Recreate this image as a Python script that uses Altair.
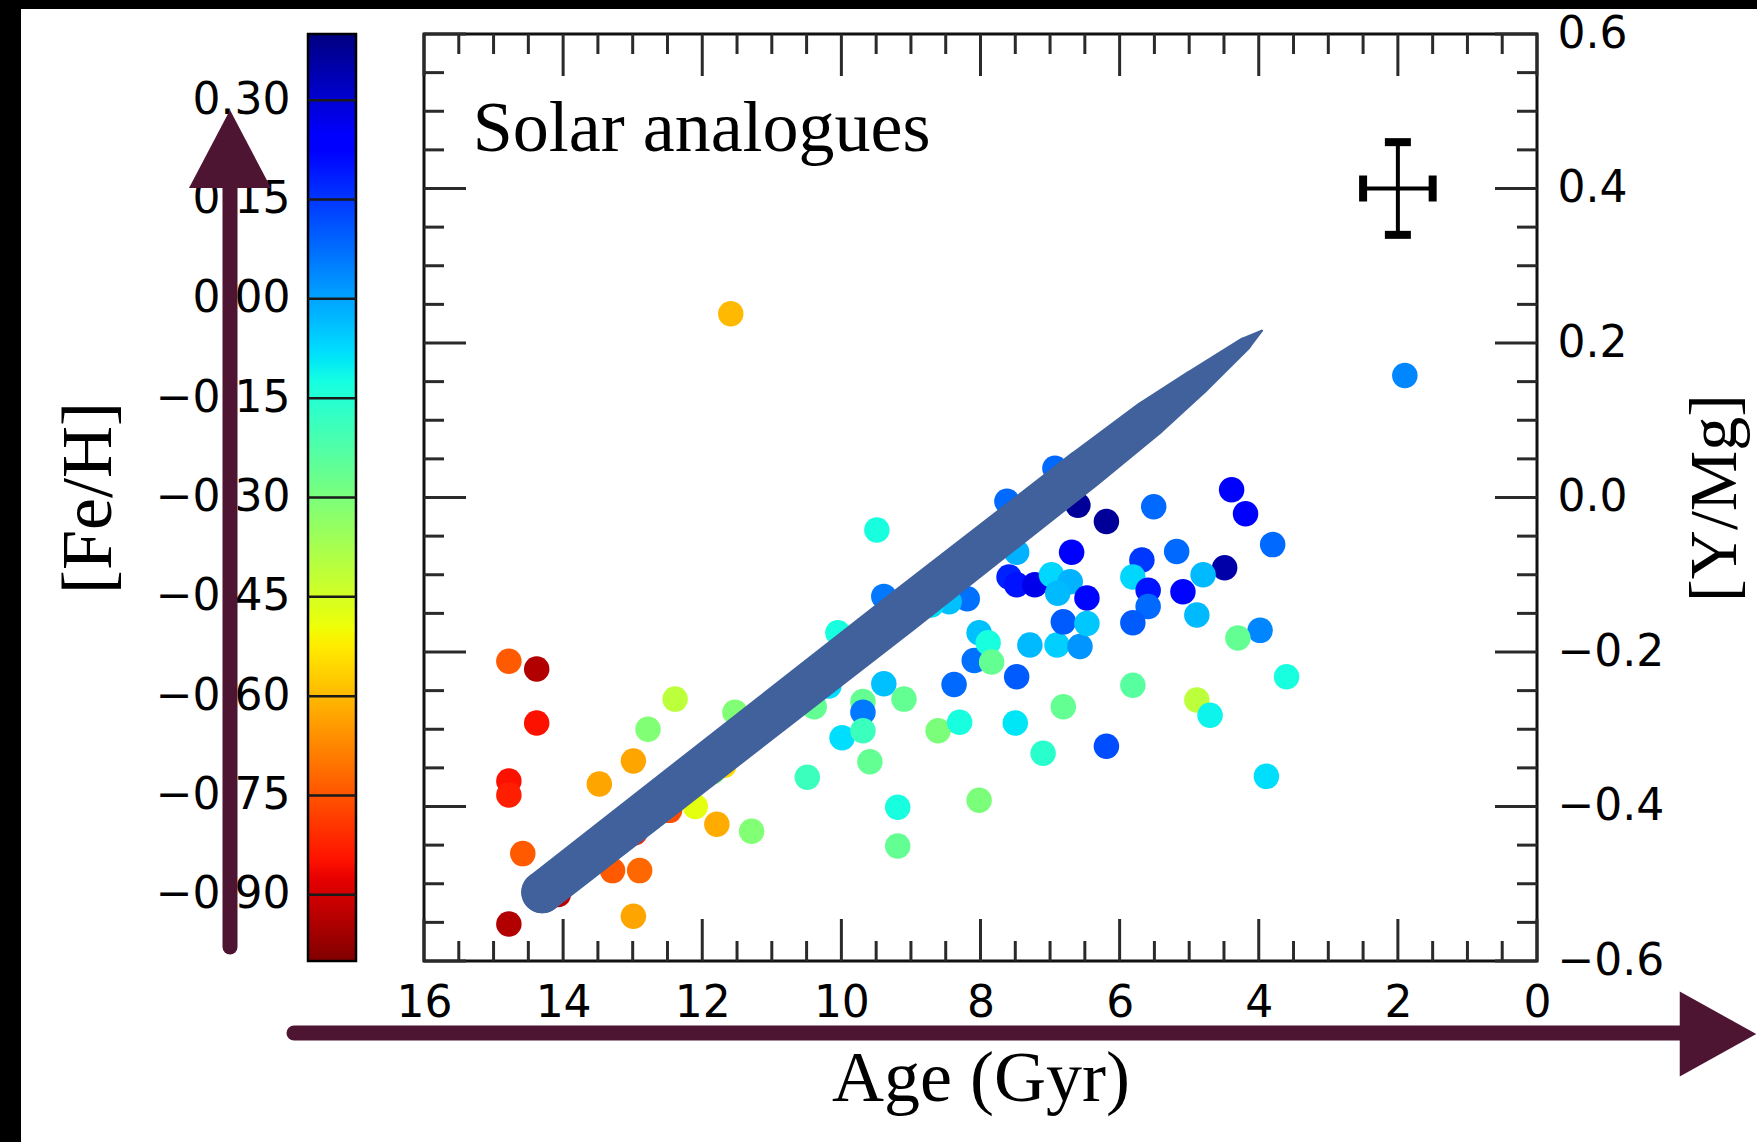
import altair as alt
import pandas as pd

# ---------------- data ----------------
age = [14.78, 14.38, 14.38, 14.78, 14.78, 14.58, 14.78, 14.07, 13.48, 12.99,
       12.78, 12.39, 13.29, 12.90, 12.99, 12.97, 12.47, 12.10, 11.79, 11.29,
       11.53, 11.69, 11.85, 10.49, 10.39, 10.18, 9.99, 9.69, 9.69, 9.69,
       9.59, 9.39, 9.10, 9.19, 9.19, 9.49, 9.39, 10.05, 8.61, 8.30,
       8.38, 8.09, 8.02, 8.19, 8.45, 8.71, 8.02, 7.89, 7.84,
       6.93, 7.62, 6.60, 6.19, 5.51, 4.39, 4.19, 3.80, 6.69, 7.48,
       7.59, 7.48, 7.22, 6.98, 6.71, 6.89, 6.47, 5.68, 5.18, 4.49,
       4.80, 5.81, 5.59, 5.09, 5.59, 5.81, 4.89, 3.98, 4.30, 3.60,
       4.89, 4.70, 3.89, 5.81, 6.81, 6.19, 7.10, 7.50, 7.48, 7.29,
       6.90, 6.57, 6.81, 6.47, 11.59, 1.90]
y_mg = [-0.212, -0.222, -0.292, -0.367, -0.385, -0.461, -0.552, -0.514, -0.371, -0.341,
        -0.300, -0.261, -0.483, -0.483, -0.542, -0.434, -0.405, -0.400, -0.423, -0.432,
        -0.278, -0.347, -0.355, -0.362, -0.271, -0.244, -0.311, -0.264, -0.278, -0.302,
        -0.342, -0.241, -0.261, -0.401, -0.451, -0.042, -0.128, -0.175, -0.302, -0.291,
        -0.242, -0.211, -0.175, -0.131, -0.135, -0.139, -0.392, -0.188, -0.213,
        0.038, -0.005, -0.010, -0.031, -0.012, 0.010, -0.021, -0.061, -0.071, -0.071,
        -0.103, -0.113, -0.113, -0.100, -0.109, -0.124, -0.130, -0.081, -0.070, -0.091,
        -0.100, -0.103, -0.120, -0.122, -0.141, -0.162, -0.152, -0.172, -0.182, -0.232,
        -0.262, -0.282, -0.361, -0.243, -0.271, -0.322, -0.331, -0.292, -0.232, -0.191,
        -0.191, -0.193, -0.161, -0.163, 0.238, 0.158]
fe_h = [-0.74, -0.94, -0.85, -0.85, -0.83, -0.74, -0.94, -0.93, -0.63, -0.63,
        -0.31, -0.41, -0.74, -0.72, -0.63, -0.82, -0.76, -0.48, -0.62, -0.31,
        -0.31, -0.55, -0.31, -0.19, -0.26, -0.08, -0.08, -0.26, 0.06, -0.19,
        -0.26, -0.04, -0.26, -0.13, -0.26, -0.13, 0.06, -0.13, -0.30, -0.13,
        0.08, 0.07, -0.04, 0.07, -0.04, -0.08, -0.30, -0.13, -0.26,
        0.08, 0.08, 0.37, 0.37, 0.08, 0.23, 0.23, 0.08, 0.23, -0.02,
        0.18, 0.20, 0.27, -0.07, -0.02, -0.03, 0.22, 0.15, 0.08, 0.35,
        -0.03, -0.07, 0.20, 0.22, 0.08, 0.10, -0.03, 0.04, -0.26, -0.13,
        -0.41, -0.11, -0.08, -0.24, -0.26, 0.12, -0.16, -0.09, 0.10, -0.03,
        -0.06, 0.02, 0.10, -0.05, -0.60, 0.04]

x_major = [0, 2, 4, 6, 8, 10, 12, 14, 16]
x_minor = [0.5, 1, 1.5, 2.5, 3, 3.5, 4.5, 5, 5.5, 6.5, 7, 7.5, 8.5, 9, 9.5,
           10.5, 11, 11.5, 12.5, 13, 13.5, 14.5, 15, 15.5]
y_major = [-0.6, -0.4, -0.2, 0.0, 0.2, 0.4, 0.6]
y_minor = [-0.55, -0.5, -0.45, -0.35, -0.3, -0.25, -0.15, -0.1, -0.05,
           0.05, 0.1, 0.15, 0.25, 0.3, 0.35, 0.45, 0.5, 0.55]
cbar_ticks = [0.30, 0.15, 0.0, -0.15, -0.30, -0.45, -0.60, -0.75, -0.90]
cbar_range = [-1.0, 0.4]

# typical error bar (age, [Y/Mg])
err_age, err_mag, err_dage, err_dmag = 2.0, 0.40, 0.5, 0.06
label_text = "Solar analogues"
label_age, label_mag = 15.30, 0.448

# hand-drawn blue stroke (data coordinates) and its width
stroke_age = [14.30, 9.157, 6.5, 5.563, 4.9, 4.198, 3.953]
stroke_mag = [-0.511, -0.150, 0.037, 0.103, 0.149, 0.199, 0.216]
stroke_w = [42, 44, 42, 38, 28, 14, 2]

# ---------------- styles / layout ----------------
W, H = 1113, 927
SANS = "DejaVu Sans"
SERIF = "Liberation Serif"
MAROON = "#4e1533"
BLUE_STROKE = "#41619c"
TICK_C = "#2a2a2a"

# jet_r colour map anchors for [Fe/H] in [-1.0, 0.4]
jet_dom = [-1.0, -0.874, -0.846, -0.524, -0.51, -0.496, -0.125, -0.09, -0.076, 0.225, 0.246, 0.4]
jet_col = ["#800000", "#e80000", "#ff1300", "#ffec00", "#f7f500", "#eeff08",
           "#15ffe2", "#00e6f7", "#00dbff", "#0000ff", "#0000ff", "#000080"]

x_scale = alt.Scale(domain=[0, 16], reverse=True, nice=False, zero=False)
y_scale = alt.Scale(domain=[-0.6, 0.6], nice=False, zero=False)
cb_scale = alt.Scale(domain=cbar_range, nice=False, zero=False)
col_scale = alt.Scale(domain=jet_dom, range=jet_col, interpolate="rgb")

x_axis = alt.Axis(values=x_major, format="d", ticks=False, domain=False, grid=False,
                  labelPadding=20, labelFont=SANS, labelFontSize=44, labelColor="black",
                  labelFlush=False, labelOverlap=False,
                  title="Age (Gyr)", titleFont=SERIF, titleFontSize=72,
                  titleFontWeight="normal", titleColor="black",
                  titleBaseline="alphabetic", titleY=139, titleX=W / 2)
y_axis = alt.Axis(orient="right", values=y_major, format=".1f", ticks=False, domain=False,
                  grid=False, labelPadding=20, labelFont=SANS, labelFontSize=44,
                  labelColor="black", labelFlush=False, labelOverlap=False,
                  title="[Y/Mg]", titleFont=SERIF, titleFontSize=68, titleFontWeight="normal",
                  titleColor="black", titleAngle=270, titleBaseline="alphabetic",
                  titleAlign="center", titleX=198, titleY=H / 2)
cb_axis = alt.Axis(orient="left", offset=116, values=cbar_ticks, format=".2f", ticks=False,
                   domain=False, grid=False, labelPadding=18, labelFont=SANS,
                   labelFontSize=44, labelColor="black", labelFlush=False, labelOverlap=False,
                   title="[Fe/H]", titleFont=SERIF, titleFontSize=72, titleFontWeight="normal",
                   titleColor="black", titleAngle=270, titleBaseline="alphabetic",
                   titleAlign="center", titleX=-198, titleY=H / 2)

X = lambda f: alt.X(f, type="quantitative", scale=x_scale, axis=x_axis)
Y = lambda f: alt.Y(f, type="quantitative", scale=y_scale, axis=y_axis)

one = pd.DataFrame({"k": [0]})
xmaj = pd.DataFrame({"age": x_major})
xmin = pd.DataFrame({"age": x_minor})
ymaj = pd.DataFrame({"mag": y_major})
ymin = pd.DataFrame({"mag": y_minor})

def xticks(df, length):
    bot = alt.Chart(df).mark_rule(color=TICK_C, strokeWidth=3).encode(
        x=X("age"), y=alt.value(H), y2=alt.value(H - length))
    top = alt.Chart(df).mark_rule(color=TICK_C, strokeWidth=3).encode(
        x=X("age"), y=alt.value(0), y2=alt.value(length))
    return [bot, top]

def yticks(df, length):
    lft = alt.Chart(df).mark_rule(color=TICK_C, strokeWidth=3).encode(
        y=Y("mag"), x=alt.value(0), x2=alt.value(length))
    rgt = alt.Chart(df).mark_rule(color=TICK_C, strokeWidth=3).encode(
        y=Y("mag"), x=alt.value(W - length), x2=alt.value(W))
    return [lft, rgt]

pts = pd.DataFrame({"age": age, "mag": y_mg, "feh": fe_h})
points = alt.Chart(pts).mark_circle(size=650, opacity=1).encode(
    x=X("age"), y=Y("mag"),
    color=alt.Color("feh:Q", scale=col_scale, legend=None))

err = pd.DataFrame({"age": [err_age], "mag": [err_mag],
                    "alo": [err_age - err_dage], "ahi": [err_age + err_dage],
                    "mlo": [err_mag - err_dmag], "mhi": [err_mag + err_dmag]})
err_h = alt.Chart(err).mark_rule(color="black", strokeWidth=4).encode(
    x=X("alo"), x2="ahi:Q", y=Y("mag"))
err_v = alt.Chart(err).mark_rule(color="black", strokeWidth=4).encode(
    y=Y("mlo"), y2="mhi:Q", x=X("age"))
caps_h = pd.DataFrame({"age": [err_age - err_dage, err_age + err_dage], "mag": [err_mag, err_mag]})
caps_v = pd.DataFrame({"age": [err_age, err_age], "mag": [err_mag - err_dmag, err_mag + err_dmag]})
err_ch = alt.Chart(caps_h).mark_tick(color="black", orient="vertical", size=26, thickness=8,
                                     opacity=1).encode(x=X("age"), y=Y("mag"))
err_cv = alt.Chart(caps_v).mark_tick(color="black", orient="horizontal", size=26, thickness=8,
                                     opacity=1).encode(x=X("age"), y=Y("mag"))

lab = pd.DataFrame({"age": [label_age], "mag": [label_mag], "t": [label_text]})
label = alt.Chart(lab).mark_text(align="left", baseline="alphabetic", font=SERIF,
                                 fontSize=72, color="black").encode(
    x=X("age"), y=Y("mag"), text="t:N")

sdf = pd.DataFrame({"age": stroke_age, "mag": stroke_mag, "w": stroke_w})
trail = alt.Chart(sdf).mark_trail(color=BLUE_STROKE, opacity=1).encode(
    x=X("age"), y=Y("mag"), size=alt.Size("w:Q", scale=None, legend=None))
cap = alt.Chart(sdf.iloc[:1]).mark_circle(color=BLUE_STROKE, size=stroke_w[0] ** 2,
                                          opacity=1).encode(x=X("age"), y=Y("mag"))

main = alt.layer(*xticks(xmaj, 42), *xticks(xmin, 20), *yticks(ymaj, 42), *yticks(ymin, 20),
                 points, err_h, err_v, err_ch, err_cv, label, trail, cap)

# colour bar
cb_stops = [alt.GradientStop(color=c, offset=(v - cbar_range[0]) / (cbar_range[1] - cbar_range[0]))
            for v, c in zip(jet_dom, jet_col)]
grad = alt.LinearGradient(gradient="linear", stops=cb_stops, x1=0, x2=0, y1=1, y2=0)
cbdf = pd.DataFrame({"feh": [cbar_range[1]], "lo": [cbar_range[0]]})
cb_rect = alt.Chart(cbdf).mark_rect(fill=grad, stroke="black", strokeWidth=2.5).encode(
    y=alt.Y("feh:Q", scale=cb_scale, axis=cb_axis), y2="lo:Q",
    x=alt.value(-116), x2=alt.value(-68))
cb_lines = alt.Chart(pd.DataFrame({"feh": cbar_ticks})).mark_rule(
    color="#1a1a1a", strokeWidth=2.5).encode(
    y=alt.Y("feh:Q", scale=cb_scale, axis=cb_axis), x=alt.value(-116), x2=alt.value(-68))
cbar = alt.layer(cb_rect, cb_lines)

# decorations (frame bands and hand-drawn arrows)
band_top = alt.Chart(one).mark_rect(color="black").encode(
    x=alt.value(-424), x2=alt.value(1333), y=alt.value(-34), y2=alt.value(-25))
band_left = alt.Chart(one).mark_rect(color="black").encode(
    x=alt.value(-424), x2=alt.value(-403), y=alt.value(-34), y2=alt.value(1108))
v_shaft = alt.Chart(one).mark_rule(color=MAROON, strokeWidth=15, strokeCap="round").encode(
    x=alt.value(-194), y=alt.value(150), y2=alt.value(913))
v_head = alt.Chart(one).mark_point(shape="M0,-0.95L1,0.95L-1,0.95Z", filled=True, size=6724,
                                   color=MAROON, opacity=1, strokeWidth=0).encode(
    x=alt.value(-194), y=alt.value(115))
h_shaft = alt.Chart(one).mark_rule(color=MAROON, strokeWidth=15, strokeCap="round").encode(
    x=alt.value(-130), x2=alt.value(1262), y=alt.value(999))
h_head = alt.Chart(one).mark_point(shape="M-0.9,-1L0.9,0L-0.9,1Z", filled=True, size=7225,
                                   color=MAROON, opacity=1, strokeWidth=0).encode(
    x=alt.value(1294), y=alt.value(1000))
deco = alt.layer(band_top, band_left, v_shaft, v_head, h_shaft, h_head)

chart = alt.layer(main, cbar, deco).resolve_scale(y="independent").properties(
    width=W, height=H,
    padding={"left": 424, "top": 34, "right": 220, "bottom": 181},
    autosize=alt.AutoSizeParams(type="none"),
    background="white",
).configure_view(stroke="#111111", strokeWidth=3)

chart.save("out.html", embed_options={"renderer": "svg", "actions": False})
